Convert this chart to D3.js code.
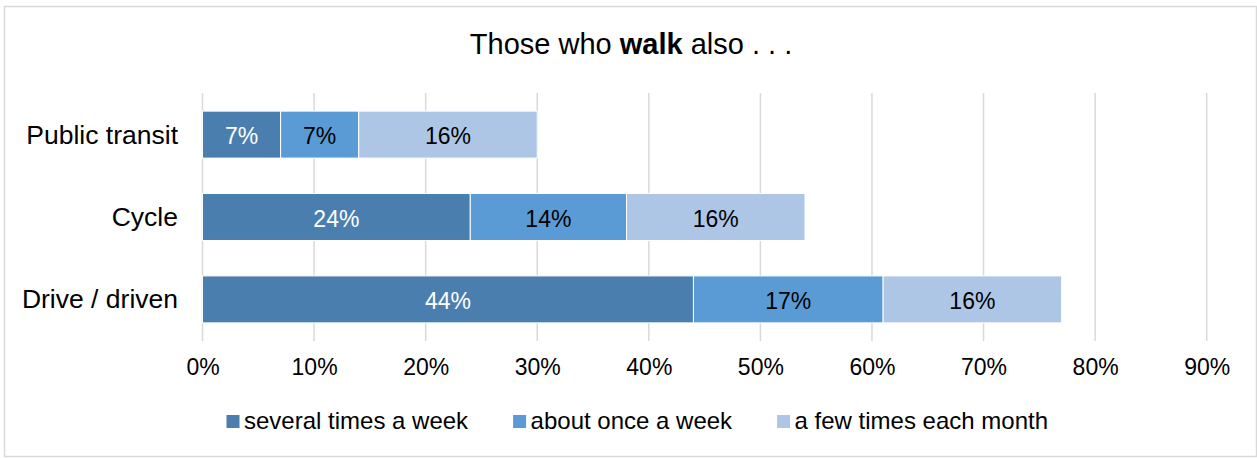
<!DOCTYPE html>
<html lang="en">
<head>
<meta charset="UTF-8">
<title>Those who walk also</title>
<style>
    body { margin: 0; background: #fff; }
    svg { display: block; font-family: "Liberation Sans", Arial, sans-serif; }
</style>
</head>
<body>
<svg id="chart" width="1257" height="458"></svg>
<script src="https://d3js.org/d3.v7.min.js"></script>
<script>
    // chart data
    var categories = ["Public transit", "Cycle", "Drive / driven"];
    var seriesNames = ["several times a week", "about once a week", "a few times each month"];
    var severalTimes = [7, 24, 44];
    var onceAWeek = [7, 14, 17];
    var fewTimesMonth = [16, 16, 16];
    var tickValues = [0, 10, 20, 30, 40, 50, 60, 70, 80, 90];
    var colors = ["#4a7eaf", "#5b9bd5", "#adc6e6"];
    var labelColors = ["#fff", "#000", "#000"];

    var svg = d3.select("#chart");

    // outer border
    svg.append("rect")
        .attr("x", 4.5).attr("y", 6.5)
        .attr("width", 1252).attr("height", 450)
        .attr("fill", "#fff")
        .attr("stroke", "#d9d9d9")
        .attr("stroke-width", 1.5);

    // title
    var title = svg.append("text")
        .attr("x", 631).attr("y", 54)
        .attr("text-anchor", "middle")
        .attr("font-size", 29)
        .attr("fill", "#000");
    title.append("tspan").text("Those who ");
    title.append("tspan").attr("font-weight", "bold").text("walk");
    title.append("tspan").text(" also . . .");

    var x = d3.scaleLinear().domain([0, 90]).range([202.5, 1206.7]);
    var y = d3.scaleBand().domain(categories).range([93, 341])
        .paddingInner(0.43).paddingOuter(0.22);

    // gridlines
    svg.append("g").selectAll("line")
        .data(tickValues)
        .join("line")
        .attr("x1", function(d) { return x(d); })
        .attr("x2", function(d) { return x(d); })
        .attr("y1", 93).attr("y2", 341)
        .attr("stroke", "#d9d9d9")
        .attr("stroke-width", 1.5);

    // x axis labels
    var xAxis = svg.append("g")
        .attr("transform", "translate(0,356)")
        .call(d3.axisBottom(x).tickValues(tickValues)
            .tickFormat(function(d) { return d + "%"; })
            .tickSize(0).tickPadding(0));
    xAxis.select(".domain").remove();
    xAxis.selectAll("text")
        .attr("font-family", "Liberation Sans, Arial, sans-serif")
        .attr("font-size", 23)
        .attr("fill", "#000")
        .attr("dy", 0)
        .attr("y", 19);

    // category labels
    var yAxis = svg.append("g")
        .attr("transform", "translate(178,0)")
        .call(d3.axisLeft(y).tickSize(0).tickPadding(0));
    yAxis.select(".domain").remove();
    yAxis.selectAll("text")
        .attr("font-family", "Liberation Sans, Arial, sans-serif")
        .attr("font-size", 26.5)
        .attr("fill", "#000")
        .attr("dy", "0.34em");

    // stacked series
    var rows = categories.map(function(c, i) {
        return { cat: c, s0: severalTimes[i], s1: onceAWeek[i], s2: fewTimesMonth[i] };
    });
    var stack = d3.stack().keys(["s0", "s1", "s2"]);
    var layers = stack(rows);

    var layerG = svg.append("g").selectAll("g")
        .data(layers)
        .join("g")
        .attr("fill", function(d, i) { return colors[i]; });

    layerG.selectAll("rect")
        .data(function(d) { return d; })
        .join("rect")
        .attr("x", function(d) { return x(d[0]); })
        .attr("y", function(d) { return y(d.data.cat); })
        .attr("width", function(d) { return x(d[1]) - x(d[0]); })
        .attr("height", y.bandwidth())
        .attr("stroke", "#fff")
        .attr("stroke-width", 1);

    // value labels
    layers.forEach(function(layer, i) {
        svg.append("g").selectAll("text")
            .data(layer)
            .join("text")
            .attr("x", function(d) { return (x(d[0]) + x(d[1])) / 2; })
            .attr("y", function(d) { return y(d.data.cat) + y.bandwidth() / 2; })
            .attr("dy", "0.42em")
            .attr("text-anchor", "middle")
            .attr("font-size", 23)
            .attr("fill", labelColors[i])
            .text(function(d) { return (d[1] - d[0]) + "%"; });
    });

    // legend
    var legendX = 226.5;
    seriesNames.forEach(function(name, i) {
        var g = svg.append("g")
            .attr("transform", "translate(" + legendX + ",0)");
        g.append("rect")
            .attr("x", 0).attr("y", 415)
            .attr("width", 13).attr("height", 13)
            .attr("fill", colors[i]);
        var t = g.append("text")
            .attr("x", 17.5).attr("y", 428.5)
            .attr("font-size", 24)
            .attr("fill", "#000")
            .text(name);
        legendX += 17.5 + t.node().getComputedTextLength() + 45;
    });
</script>
</body>
</html>
